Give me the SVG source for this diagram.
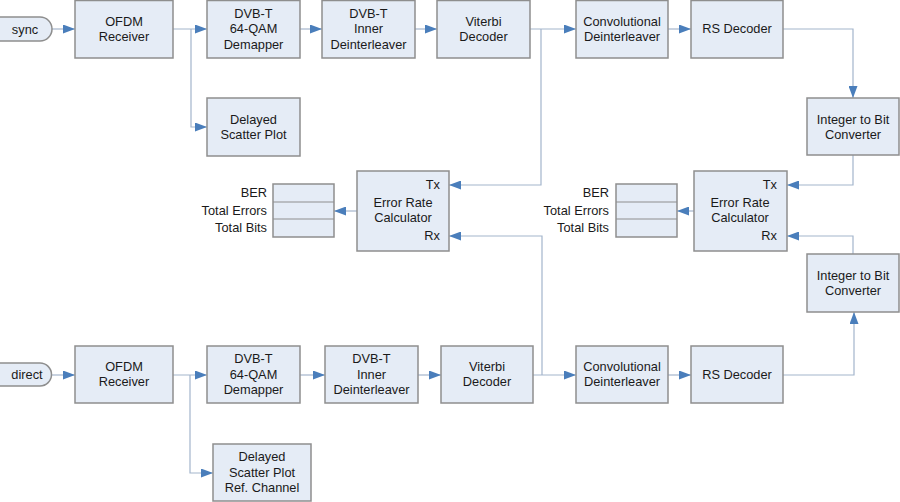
<svg xmlns="http://www.w3.org/2000/svg" width="900" height="502" viewBox="0 0 900 502">
<style>
.b{fill:#e5ecf6;stroke:#8e8e8e;stroke-width:1.5}
.t{font-family:"Liberation Sans",Arial,sans-serif;font-size:12.8px;fill:#1a1a1a;text-anchor:middle}
.r{text-anchor:end}
.c{fill:none;stroke:#a3b5cc;stroke-width:1.2}
.d{fill:none;stroke:#8e8e8e;stroke-width:1}
</style>
<defs>
<marker id="a" viewBox="0 0 12 9" refX="12" refY="4.5" markerWidth="12" markerHeight="9" markerUnits="userSpaceOnUse" orient="auto">
<path d="M0,0 L12,4.5 L0,9 Z" fill="#4a7ebb"/>
</marker>
</defs>
<rect width="900" height="502" fill="#ffffff"/>
<g id="connectors">
<path class="c" d="M52,29 H75" marker-end="url(#a)"/>
<path class="c" d="M173,29 H207" marker-end="url(#a)"/>
<path class="c" d="M191,29 V127 H207" marker-end="url(#a)"/>
<path class="c" d="M300,29 H322" marker-end="url(#a)"/>
<path class="c" d="M415,29 H437" marker-end="url(#a)"/>
<path class="c" d="M530,29 H576" marker-end="url(#a)"/>
<path class="c" d="M541,29 V185 H449" marker-end="url(#a)"/>
<path class="c" d="M668,29 H691" marker-end="url(#a)"/>
<path class="c" d="M783,29 H853 V98" marker-end="url(#a)"/>
<path class="c" d="M853,155 V185 H787" marker-end="url(#a)"/>
<path class="c" d="M853,254 V236 H787" marker-end="url(#a)"/>
<path class="c" d="M357,211 H334" marker-end="url(#a)"/>
<path class="c" d="M694,211 H677" marker-end="url(#a)"/>
<path class="c" d="M52,375 H75" marker-end="url(#a)"/>
<path class="c" d="M173,375 H207" marker-end="url(#a)"/>
<path class="c" d="M190,375 V473 H213" marker-end="url(#a)"/>
<path class="c" d="M300,375 H325" marker-end="url(#a)"/>
<path class="c" d="M418,375 H441" marker-end="url(#a)"/>
<path class="c" d="M533,375 H576" marker-end="url(#a)"/>
<path class="c" d="M542,375 V236 H449" marker-end="url(#a)"/>
<path class="c" d="M668,375 H691" marker-end="url(#a)"/>
<path class="c" d="M783,375 H854 V312" marker-end="url(#a)"/>
</g>
<g id="sync"><path class="b" d="M-1,17 H40 A12,12 0 0 1 40,41 H-1 Z"/><text class="t" x="25" y="33.5">sync</text></g>
<g id="ofdm1"><rect class="b" x="75" y="0.5" width="98" height="57.5"/><text class="t" x="124" y="25.5">OFDM</text><text class="t" x="124" y="40.5">Receiver</text></g>
<g id="demap1"><rect class="b" x="207" y="0.5" width="93" height="57.5"/><text class="t" x="253.5" y="17.5">DVB-T</text><text class="t" x="253.5" y="33">64-QAM</text><text class="t" x="253.5" y="48.5">Demapper</text></g>
<g id="scatter1"><rect class="b" x="207" y="98" width="93" height="58"/><text class="t" x="253.5" y="123.5">Delayed</text><text class="t" x="253.5" y="138.5">Scatter Plot</text></g>
<g id="inner1"><rect class="b" x="322" y="0.5" width="93" height="57.5"/><text class="t" x="368.5" y="17.5">DVB-T</text><text class="t" x="368.5" y="33">Inner</text><text class="t" x="368.5" y="48.5">Deinterleaver</text></g>
<g id="viterbi1"><rect class="b" x="437" y="0.5" width="93" height="57.5"/><text class="t" x="483.5" y="25.5">Viterbi</text><text class="t" x="483.5" y="40.5">Decoder</text></g>
<g id="conv1"><rect class="b" x="576" y="0.5" width="92" height="57.5"/><text class="t" x="622" y="25.5">Convolutional</text><text class="t" x="622" y="40.5">Deinterleaver</text></g>
<g id="rs1"><rect class="b" x="691" y="0.5" width="92" height="57.5"/><text class="t" x="737" y="33">RS Decoder</text></g>
<g id="int1"><rect class="b" x="807" y="98" width="92" height="57"/><text class="t" x="853" y="123.5">Integer to Bit</text><text class="t" x="853" y="138.5">Converter</text></g>
<g id="erc1"><rect class="b" x="357" y="171" width="92" height="80"/><text class="t" x="403" y="207">Error Rate</text><text class="t" x="403" y="222">Calculator</text><text class="t r" x="440" y="189">Tx</text><text class="t r" x="440" y="240">Rx</text></g>
<g id="disp1"><rect class="b" x="273" y="184" width="61" height="53"/><path class="d" d="M273,202 H334 M273,219 H334"/><text class="t r" x="267" y="197">BER</text><text class="t r" x="267" y="215">Total Errors</text><text class="t r" x="267" y="232">Total Bits</text></g>
<g id="erc2"><rect class="b" x="694" y="171" width="93" height="80"/><text class="t" x="740" y="207">Error Rate</text><text class="t" x="740" y="222">Calculator</text><text class="t r" x="777" y="189">Tx</text><text class="t r" x="777" y="240">Rx</text></g>
<g id="disp2"><rect class="b" x="616" y="184" width="61" height="53"/><path class="d" d="M616,202 H677 M616,219 H677"/><text class="t r" x="609" y="197">BER</text><text class="t r" x="609" y="215">Total Errors</text><text class="t r" x="609" y="232">Total Bits</text></g>
<g id="int2"><rect class="b" x="807" y="254" width="92" height="58"/><text class="t" x="853" y="279.5">Integer to Bit</text><text class="t" x="853" y="294.5">Converter</text></g>
<g id="direct"><path class="b" d="M-1,363 H40 A11.5,11.5 0 0 1 40,386 H-1 Z"/><text class="t" x="27" y="379">direct</text></g>
<g id="ofdm2"><rect class="b" x="75" y="346" width="98" height="57"/><text class="t" x="124" y="371">OFDM</text><text class="t" x="124" y="386">Receiver</text></g>
<g id="demap2"><rect class="b" x="207" y="346" width="93" height="57"/><text class="t" x="253.5" y="363">DVB-T</text><text class="t" x="253.5" y="378.5">64-QAM</text><text class="t" x="253.5" y="394">Demapper</text></g>
<g id="scatter2"><rect class="b" x="213" y="444" width="98" height="57"/><text class="t" x="262" y="461">Delayed</text><text class="t" x="262" y="476.5">Scatter Plot</text><text class="t" x="262" y="492">Ref. Channel</text></g>
<g id="inner2"><rect class="b" x="325" y="346" width="93" height="57"/><text class="t" x="371.5" y="363">DVB-T</text><text class="t" x="371.5" y="378.5">Inner</text><text class="t" x="371.5" y="394">Deinterleaver</text></g>
<g id="viterbi2"><rect class="b" x="441" y="346" width="92" height="57"/><text class="t" x="487" y="371">Viterbi</text><text class="t" x="487" y="386">Decoder</text></g>
<g id="conv2"><rect class="b" x="576" y="346" width="92" height="57"/><text class="t" x="622" y="371">Convolutional</text><text class="t" x="622" y="386">Deinterleaver</text></g>
<g id="rs2"><rect class="b" x="691" y="346" width="92" height="57"/><text class="t" x="737" y="378.5">RS Decoder</text></g>
</svg>
